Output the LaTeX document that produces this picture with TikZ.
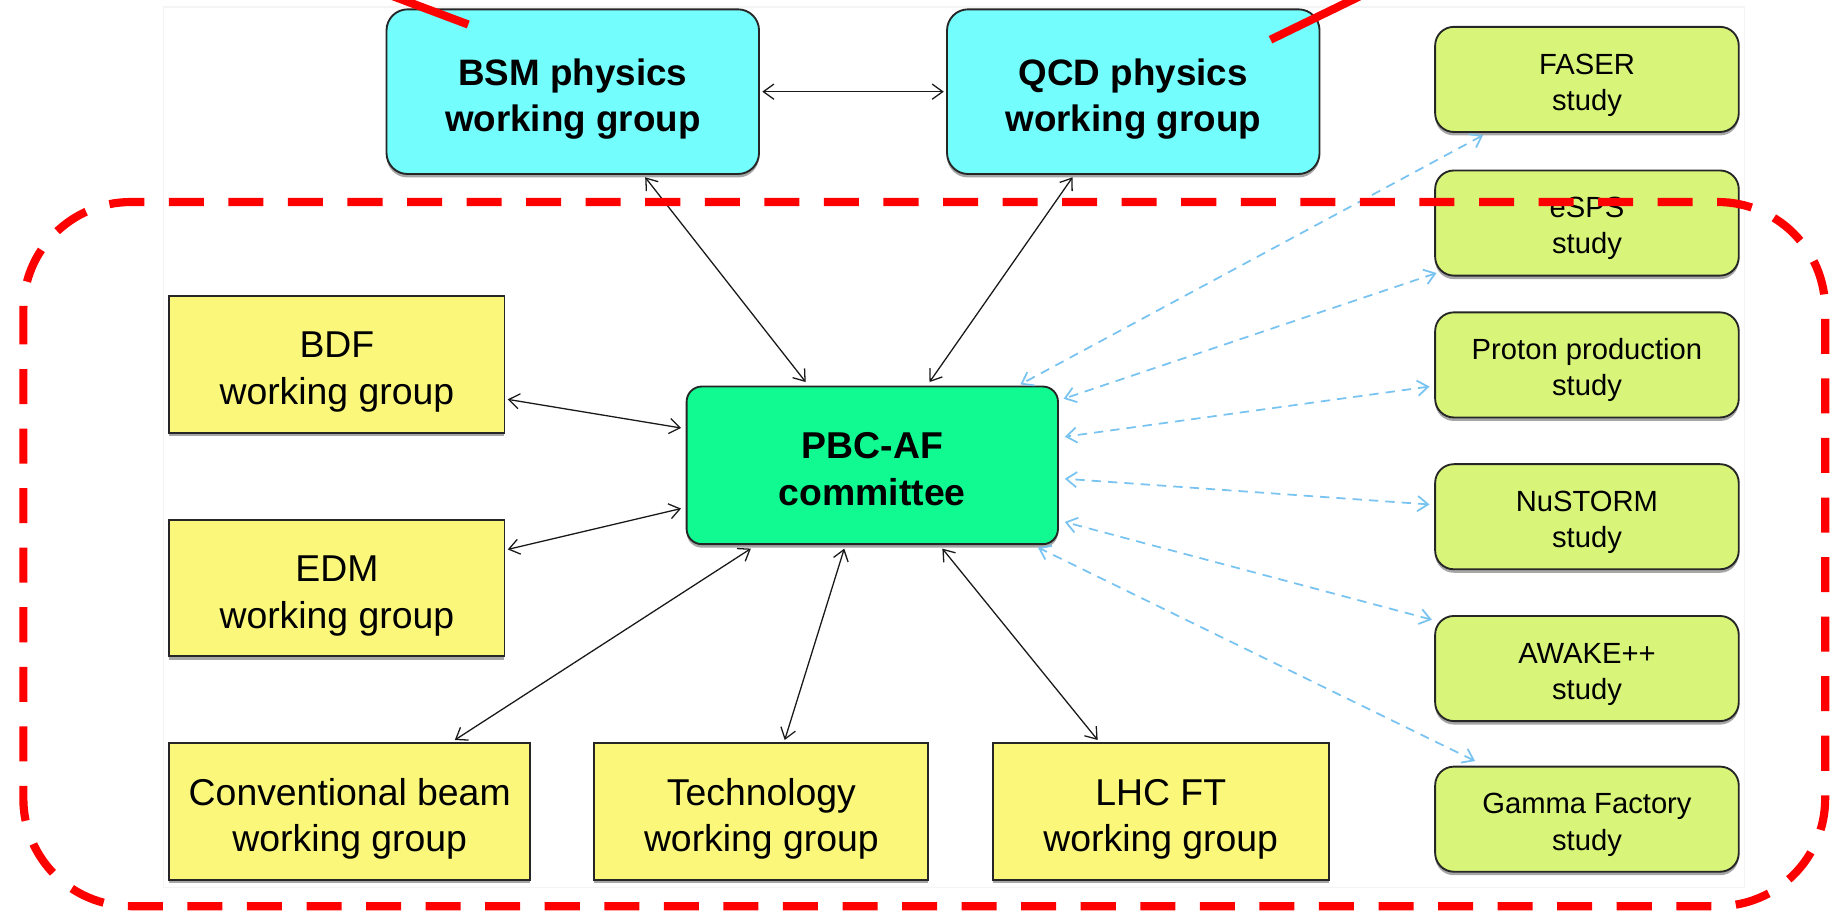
\documentclass[tikz,border=0pt]{standalone}
\usepackage{fontspec}
\setmainfont{Liberation Sans}
\usetikzlibrary{arrows.meta,shadows}
\definecolor{cyanbox}{RGB}{115,253,253}
\definecolor{pbcgreen}{RGB}{16,250,145}
\definecolor{studygreen}{RGB}{216,245,122}
\definecolor{wgyellow}{RGB}{250,247,122}
\definecolor{skyline}{RGB}{120,195,240}
\definecolor{framegray}{RGB}{244,244,244}
\tikzset{
  boxbase/.style={draw=black!85, line width=1.6pt, inner sep=0pt, align=center,
    text depth=0pt, text height=69pt,
    drop shadow={shadow xshift=0pt, shadow yshift=-3pt, opacity=0.35, fill=black}},
  physbox/.style={boxbase, fill=cyanbox, rounded corners=18pt, minimum width=319pt, minimum height=141pt,
    font=\fontsize{31.5}{40}\selectfont\bfseries},
  pbcbox/.style={boxbase, fill=pbcgreen, rounded corners=13pt, minimum width=318pt, minimum height=135pt,
    font=\fontsize{32}{40}\selectfont\bfseries},
  studybox/.style={boxbase, fill=studygreen, rounded corners=16pt, minimum width=260pt, minimum height=90pt,
    text height=53pt, font=\fontsize{25}{31}\selectfont},
  wgbox/.style={boxbase, fill=wgyellow, minimum height=117pt,
    font=\fontsize{32}{40}\selectfont},
  link/.style={black!90, line width=1.1pt, {Straight Barb[length=9pt,width=13pt]}-{Straight Barb[length=9pt,width=13pt]}},
  bluelink/.style={skyline, line width=1.5pt, dash pattern=on 8pt off 6pt,
    {Straight Barb[length=9pt,width=13pt]}-{Straight Barb[length=9pt,width=13pt]}},
  redmark/.style={red, line width=7pt}
}
\begin{document}
\begin{tikzpicture}[x=1pt,y=-1pt]
\useasboundingbox (0,0) rectangle (1568,782);
% faint slide frame
\draw[framegray, line width=1pt] (140,6) rectangle (1494,760);

% physics working groups
\node[physbox] (bsm) at (490.5,78.5) {BSM physics\\working group};
\node[physbox] (qcd) at (970.5,78.5) {QCD physics\\working group};

% committee
\node[pbcbox] (pbc) at (747,398.5) {PBC-AF\\committee};

% working groups
\node[wgbox, minimum width=287pt] (bdf) at (288.5,312) {BDF\\working group};
\node[wgbox, minimum width=287pt] (edm) at (288.5,503.5) {EDM\\working group};
\node[wgbox, minimum width=309pt] (cb) at (299.5,695) {Conventional beam\\working group};
\node[wgbox, minimum width=286pt] (tech) at (652,695) {Technology\\working group};
\node[wgbox, minimum width=288pt] (lhc) at (994,695) {LHC FT\\working group};

% studies
\node[studybox] (faser) at (1359,68) {FASER\\study};
\node[studybox] (esps) at (1359,191) {eSPS\\study};
\node[studybox] (proton) at (1359,312.5) {Proton production\\study};
\node[studybox] (nustorm) at (1359,442.5) {NuSTORM\\study};
\node[studybox] (awake) at (1359,572.5) {AWAKE++\\study};
\node[studybox] (gamma) at (1359,701.5) {Gamma Factory\\study};

% black connectors
\draw[link] ([xshift=2pt]bsm.east) -- ([xshift=-2pt]qcd.west);
\draw[link] ([xshift=62pt,yshift=-2pt]bsm.south) -- ([xshift=-57pt,yshift=3pt]pbc.north);
\draw[link] ([xshift=-52pt,yshift=-2pt]qcd.south) -- ([xshift=49pt,yshift=3pt]pbc.north);
\draw[link] ([xshift=2pt,yshift=-30pt]bdf.east) -- ([xshift=-4pt,yshift=32pt]pbc.west);
\draw[link] ([xshift=2pt,yshift=33pt]edm.east) -- ([xshift=-4pt,yshift=-37pt]pbc.west);
\draw[link] ([xshift=90pt,yshift=2pt]cb.north) -- ([xshift=-104pt,yshift=-3pt]pbc.south);
\draw[link] ([xshift=20pt,yshift=2pt]tech.north) -- ([xshift=-24pt,yshift=-3pt]pbc.south);
\draw[link] ([xshift=-54pt,yshift=2pt]lhc.north) -- ([xshift=60pt,yshift=-3pt]pbc.south);

% blue dashed connectors
\draw[bluelink] ([xshift=-89pt,yshift=-2pt]faser.south) -- ([xshift=-33pt,yshift=1pt]pbc.north east);
\draw[bluelink] ([xshift=2pt,yshift=3pt]esps.south west) -- ([xshift=4pt,yshift=57pt]pbc.east);
\draw[bluelink] ([xshift=-4pt,yshift=-18.5pt]proton.west) -- ([xshift=5pt,yshift=24.5pt]pbc.east);
\draw[bluelink] ([xshift=-4pt,yshift=10.5pt]nustorm.west) -- ([xshift=5pt,yshift=-11.5pt]pbc.east);
\draw[bluelink] ([xshift=-2pt,yshift=-4pt]awake.north west) -- ([xshift=5pt,yshift=-48.5pt]pbc.east);
\draw[bluelink] ([xshift=35pt,yshift=4pt]gamma.north west) -- ([xshift=-18pt,yshift=-2pt]pbc.south east);

% red annotation
\draw[red, line width=7pt, dash pattern=on 30pt off 21pt, rounded corners=92pt]
  (20,173) rectangle (1563,776);
\draw[redmark] (401,21) -- (292,-20);
\draw[redmark] (1088,34) -- (1199,-20);
\end{tikzpicture}
\end{document}
